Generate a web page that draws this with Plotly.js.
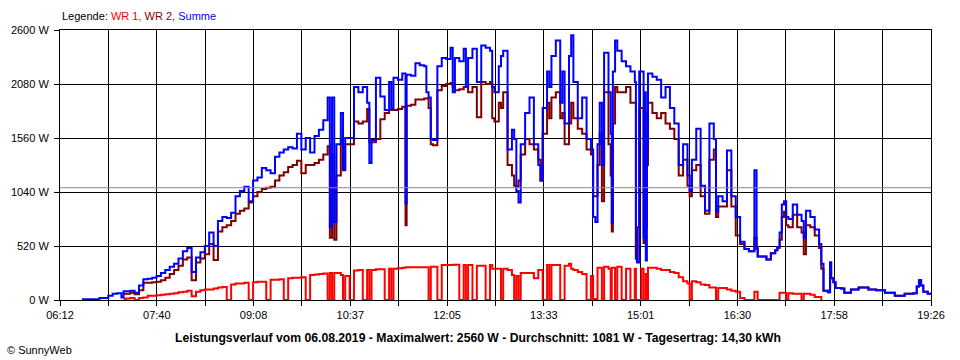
<!DOCTYPE html>
<html><head><meta charset="utf-8">
<script src="https://cdn.plot.ly/plotly-3.0.1.min.js"></script>
<style>html,body{margin:0;padding:0;background:#fff;}#chart{width:960px;height:360px;}</style>
</head><body><div id="chart"></div>
<script>
const times = [
"06:32","06:36","06:40","06:44","06:48","06:52","06:56","07:00","07:04","07:08",
"07:10","07:12","07:16","07:20","07:24","07:28","07:32","07:36","07:40","07:44",
"07:48","07:52","07:56","08:00","08:04","08:08","08:12","08:16","08:20","08:24",
"08:28","08:32","08:36","08:40","08:44","08:48","08:52","08:56","09:00","09:04",
"09:08","09:12","09:16","09:20","09:24","09:28","09:32","09:36","09:40","09:44",
"09:48","09:52","09:56","10:00","10:04","10:08","10:12","10:16","10:18","10:20",
"10:22","10:24","10:28","10:30","10:32","10:36","10:40","10:44","10:48","10:52",
"10:54","10:56","11:00","11:04","11:08","11:12","11:14","11:16","11:20","11:24",
"11:27","11:28","11:32","11:36","11:40","11:44","11:46","11:48","11:50","11:52",
"11:56","12:00","12:04","12:08","12:10","12:12","12:16","12:20","12:22","12:24",
"12:28","12:32","12:36","12:40","12:44","12:46","12:48","12:52","12:54","12:56",
"13:00","13:04","13:06","13:08","13:10","13:12","13:16","13:20","13:24","13:28",
"13:30","13:32","13:36","13:38","13:40","13:44","13:48","13:50","13:52","13:56",
"13:58","14:00","14:04","14:08","14:12","14:16","14:18","14:20","14:22","14:24",
"14:26","14:28","14:32","14:34","14:35","14:36","14:38","14:40","14:44","14:48",
"14:52","14:56","14:57","14:58","15:00","15:02","15:04","15:05","15:06","15:07",
"15:08","15:12","15:16","15:20","15:24","15:28","15:32","15:36","15:40","15:44",
"15:46","15:48","15:52","15:56","16:00","16:04","16:08","16:10","16:12","16:16",
"16:20","16:24","16:28","16:32","16:36","16:40","16:44","16:45","16:47","16:48",
"16:52","16:56","17:00","17:04","17:06","17:08","17:10","17:12","17:14","17:16",
"17:20","17:24","17:28","17:30","17:32","17:36","17:40","17:44","17:46","17:48",
"17:52","17:54","17:55","17:57","17:59","18:04","18:07","18:13","18:20","18:29",
"18:36","18:44","18:53","19:02","19:10","19:13","19:15","19:17","19:19","19:23","19:26"
];
const summe = [
8,8,8,8,20,20,40,60,65,25,
85,85,90,70,140,200,205,215,230,260,
290,320,350,400,470,500,270,410,460,520,
650,520,760,800,790,840,1000,1050,1090,950,
1150,1180,1270,1250,1220,1380,1420,1450,1470,1460,
1600,1450,1560,1420,1580,1640,1730,1950,700,1950,
750,1500,1800,1260,1560,1560,2050,2000,2050,1900,
1320,1540,2140,1960,1830,2100,1850,2140,2120,2180,
930,2170,2160,2280,2260,2250,2000,1950,1550,1540,
2250,2330,2320,2430,2000,2330,2300,2420,2050,2330,
2420,2100,2450,2430,2400,2050,2000,2250,2350,2400,
1450,1640,1550,1050,940,1500,1800,1950,1500,1300,
1150,1850,2200,2050,2350,2500,1900,2200,1700,2350,
2550,2100,1750,1950,1550,1450,800,750,1500,1900,
1300,2380,2000,1600,740,2200,2500,2400,2300,2250,
2200,2100,400,360,2200,2200,600,2000,380,1500,
2180,2150,2120,1950,2050,1850,1700,1300,1500,1200,
1050,1350,1650,1100,860,1700,1550,850,1000,950,
1440,1000,800,560,490,470,470,1250,500,420,
420,390,450,480,510,650,920,950,800,780,
920,820,760,600,860,800,680,540,350,90,
75,360,210,170,115,110,70,100,120,100,
95,70,40,60,65,130,190,140,80,60,55
];
const wr2 = [
null,null,null,null,null,null,null,null,null,null,
60,60,70,55,95,165,165,170,175,190,
215,250,290,330,390,410,190,360,400,440,
540,385,660,700,720,760,830,860,880,940,
1000,1040,1070,1080,1090,1150,1200,1230,1280,1300,
1340,1220,1300,1300,1320,1350,1400,1480,600,1400,
580,1200,1550,1250,1500,1500,1720,1700,1720,1840,
1520,1520,1550,1740,1800,1830,1830,1830,1840,1860,
720,1870,1880,1930,1930,1940,1940,1850,1500,1490,
2020,2060,2080,2090,2050,2020,2030,2050,2050,2000,
2050,1760,2100,2080,2100,1750,1720,1900,1850,2000,
1300,1200,1100,1090,1150,1400,1550,1500,1450,1350,
1150,1600,1900,1750,1950,2000,1750,1800,1500,1700,
1900,1750,1650,1600,1450,1400,1000,1000,1300,1600,
950,2000,1500,1200,660,1700,2050,2000,2000,2050,
1900,1900,400,700,1850,1850,550,1800,700,1300,
1900,1800,1750,1800,1700,1650,1550,1200,1350,1100,
1000,1250,1300,1000,830,1350,1450,800,900,900,
1250,900,620,540,490,470,470,600,490,420,
420,390,450,480,500,580,800,850,720,700,
820,700,650,440,720,700,620,500,300,90,
75,360,210,170,115,110,70,100,120,100,
95,70,40,60,65,130,190,140,80,60,55
];
const wr1 = [
null,null,null,null,null,null,null,null,null,null,
10,15,20,0,20,25,40,40,45,50,
55,60,65,75,80,90,35,80,95,100,
100,110,120,125,0,150,160,160,165,0,
170,175,175,0,195,195,200,0,210,215,
215,220,0,240,245,250,255,0,260,0,
260,260,240,0,230,0,285,290,0,290,
0,290,295,295,0,300,0,300,305,310,
315,315,315,315,315,315,315,0,320,320,
0,337,337,337,340,340,0,337,0,337,
0,330,330,0,337,300,300,300,0,300,
290,240,0,230,0,260,260,260,210,290,
290,0,337,0,337,337,0,0,330,350,
300,290,270,250,0,230,10,10,310,310,
0,320,300,0,310,310,0,320,0,300,
0,300,0,0,0,300,0,0,250,0,
310,310,300,290,290,270,260,220,180,160,
0,180,170,150,145,120,120,0,115,115,
100,90,80,20,0,0,0,80,80,0,
0,0,0,0,0,70,70,70,0,65,
60,60,0,60,60,50,30,30,0,null,
null,null,null,null,null,null,null,null,null,null,
null,null,null,null,null,null,null,null,null,null,null
];
const tickLabels = ["06:12","07:40","09:08","10:37","12:05","13:33","15:01","16:30","17:58","19:26"];
const yTicks = [0,520,1040,1560,2080,2600];
const averageW = 1081;
const seriesNames = ["WR 1","WR 2","Summe"];
const titleText = "Leistungsverlauf vom 06.08.2019 - Maximalwert: 2560 W - Durchschnitt: 1081 W - Tagesertrag: 14,30 kWh";

function toMin(s){const p=s.split(':').map(Number);return p[0]*60+p[1];}
const x = times.map(toMin);
const xStart = toMin(tickLabels[0]), xEnd = toMin(tickLabels[tickLabels.length-1]);
const nGrid = (tickLabels.length-1)*2;
const tickvals=[], ticktext=[];
for(let i=0;i<=nGrid;i++){tickvals.push(xStart+(xEnd-xStart)*i/nGrid);ticktext.push(i%2===0?tickLabels[i/2]:"");}

const colors = ["#ff0000","#800000","#0000ff"];
const data = [wr1, wr2, summe].map((ys,i)=>({
  type:'scatter', mode:'lines', x:x, y:ys, name:seriesNames[i],
  line:{color:colors[i], width:2, shape:'hv'}, connectgaps:false, hoverinfo:'skip'
}));

const FONT = '"Liberation Sans", Arial, sans-serif';
const layout = {
  width:960, height:360,
  margin:{l:60, r:29, t:30, b:60, pad:0},
  paper_bgcolor:'#ffffff', plot_bgcolor:'#ffffff',
  showlegend:false,
  font:{family:FONT, size:11, color:'#000'},
  xaxis:{range:[xStart,xEnd], tickmode:'array', tickvals:tickvals, ticktext:ticktext,
    showgrid:true, gridcolor:'#000', gridwidth:1, showline:true, linecolor:'#000', linewidth:1, mirror:true,
    ticks:'outside', ticklen:5, tickcolor:'#000', tickwidth:1, zeroline:false, tickangle:0,
    tickfont:{family:FONT,size:11,color:'#000'}},
  yaxis:{range:[0,2600], tickmode:'array', tickvals:yTicks, ticktext:yTicks.map(v=>v+' W'),
    showgrid:true, gridcolor:'#000', gridwidth:1, showline:true, linecolor:'#000', linewidth:1, mirror:true,
    ticks:'outside', ticklen:5, tickcolor:'#000', tickwidth:1, zeroline:false,
    tickfont:{family:FONT,size:11,color:'#000'}, ticklabelstandoff:3},
  shapes:[{type:'line', xref:'paper', x0:0, x1:1, yref:'y', y0:averageW, y1:averageW,
    line:{color:'#888888', width:1}, layer:'above'}],
  title:{text:'<b>'+titleText+'</b>', xref:'container', yref:'container', x:0.498, y:1-338/360,
    xanchor:'center', yanchor:'middle', font:{family:FONT, size:12.2, color:'#000'}},
  annotations:[
    {xref:'paper', yref:'paper', x:0, y:(300-16)/270, xanchor:'left', yanchor:'middle', showarrow:false,
     text:'Legende: <span style="color:#ff0000">'+seriesNames[0]+',</span> <span style="color:#800000">'+seriesNames[1]+',</span> <span style="color:#0000ff">'+seriesNames[2]+'</span>',
     font:{family:FONT, size:11, color:'#000'}},
    {xref:'paper', yref:'paper', x:(5-60)/871, y:(300-350)/270, xanchor:'left', yanchor:'middle', showarrow:false,
     text:'© SunnyWeb', font:{family:FONT, size:11, color:'#000'}}
  ]
};
Plotly.newPlot('chart', data, layout, {staticPlot:true, displayModeBar:false});
</script>
</body></html>
